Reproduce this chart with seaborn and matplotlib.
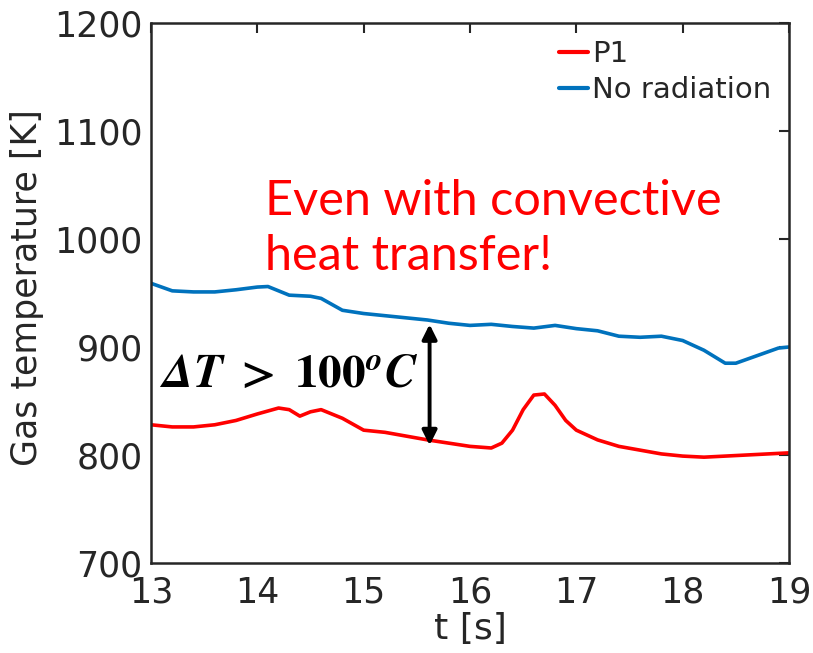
import matplotlib
matplotlib.use("Agg")
import matplotlib.pyplot as plt
import seaborn as sns
import pandas as pd

# Gas temperature traces [K] over time [s]
t_p1 = [13.0, 13.2, 13.4, 13.6, 13.8, 14.0, 14.2, 14.3, 14.4, 14.5, 14.6, 14.8,
        15.0, 15.2, 15.4, 15.6, 15.8, 16.0, 16.2, 16.3, 16.4, 16.5, 16.6, 16.7,
        16.8, 16.9, 17.0, 17.2, 17.4, 17.6, 17.8, 18.0, 18.2, 18.4, 18.6, 18.8, 19.0]
temp_p1 = [828, 826, 826, 828, 832, 838, 843.5, 842, 836, 840, 842, 834,
           823, 821, 817.5, 814, 811, 808, 806.5, 811, 823, 842, 855.5, 856.5,
           846, 832, 823, 814, 808, 804.5, 801, 799, 798, 799, 800, 801, 802]

t_norad = [13.0, 13.2, 13.4, 13.6, 13.8, 14.0, 14.1, 14.3, 14.5, 14.6, 14.8,
           15.0, 15.2, 15.4, 15.6, 15.8, 16.0, 16.2, 16.4, 16.6, 16.8, 17.0,
           17.2, 17.4, 17.6, 17.8, 18.0, 18.2, 18.4, 18.5, 18.7, 18.9, 19.0]
temp_norad = [959, 952, 951, 951, 953, 955.5, 956, 948, 947, 945, 934,
              931, 929, 927, 925, 922, 920, 921, 919, 917.5, 920, 917,
              915, 910, 909, 910, 906, 897, 885, 885, 892, 899, 900]

series_names = ["P1", "No radiation"]
x_ticks = [13, 14, 15, 16, 17, 18, 19]
y_ticks = [700, 800, 900, 1000, 1100, 1200]

# Temperature gap marker (arrow ends) and label
gap_t = 15.62
gap_low, gap_high = 809, 921

df = pd.concat([
    pd.DataFrame({"t": t_p1, "T": temp_p1, "case": series_names[0]}),
    pd.DataFrame({"t": t_norad, "T": temp_norad, "case": series_names[1]}),
])

sns.set_theme(style="white")
plt.rcParams["font.family"] = ["DejaVu Sans"]

fig = plt.figure(figsize=(8.13, 6.53), dpi=100)
ax = fig.add_axes([0.1857, 0.1378, 0.7848, 0.827])

sns.lineplot(data=df, x="t", y="T", hue="case", hue_order=series_names,
             palette={"P1": "#FF0000", "No radiation": "#0072BD"},
             linewidth=2.6, ax=ax, sort=False)

ax.set_xlim(13, 19)
ax.set_ylim(700, 1200)
ax.set_xticks(x_ticks)
ax.set_yticks(y_ticks)
ax.tick_params(axis="both", which="both", direction="in", length=7, width=1.5,
               top=True, right=True, labelsize=25, colors="#262626")
ax.tick_params(axis="x", pad=9)
ax.tick_params(axis="y", pad=6)
ax.set_xlabel("t [s]", fontsize=26, color="#262626", labelpad=2)
ax.set_ylabel("Gas temperature [K]", fontsize=25, color="#262626")
ax.yaxis.set_label_coords(-0.168, 0.51)
for sp in ax.spines.values():
    sp.set_color("#262626")
    sp.set_linewidth(1.8)

leg = ax.legend(loc="upper right", frameon=False, fontsize=21, handlelength=1.0,
                handletextpad=0.15, labelspacing=0.25, borderaxespad=0.2)
for line in leg.get_lines():
    line.set_linewidth(3)

ax.annotate("", xy=(gap_t, gap_low), xytext=(gap_t, gap_high),
            arrowprops=dict(arrowstyle="<|-|>", color="black", lw=2.8,
                            mutation_scale=22, shrinkA=0, shrinkB=0))
ax.text(13.08, 875, r"$\mathbfit{\Delta T}\ \mathbf{>}\ \mathbf{100}^{\mathbfit{o}}\mathbfit{C}$",
        fontsize=34, math_fontfamily="stix", va="center", ha="left", color="black")

ax.text(14.07, 1010, "Even with convective\nheat transfer!", fontsize=35,
        color="#FF0000", family=["Lato"], va="center", ha="left",
        linespacing=1.3)

fig.savefig("out.png", dpi=100)
